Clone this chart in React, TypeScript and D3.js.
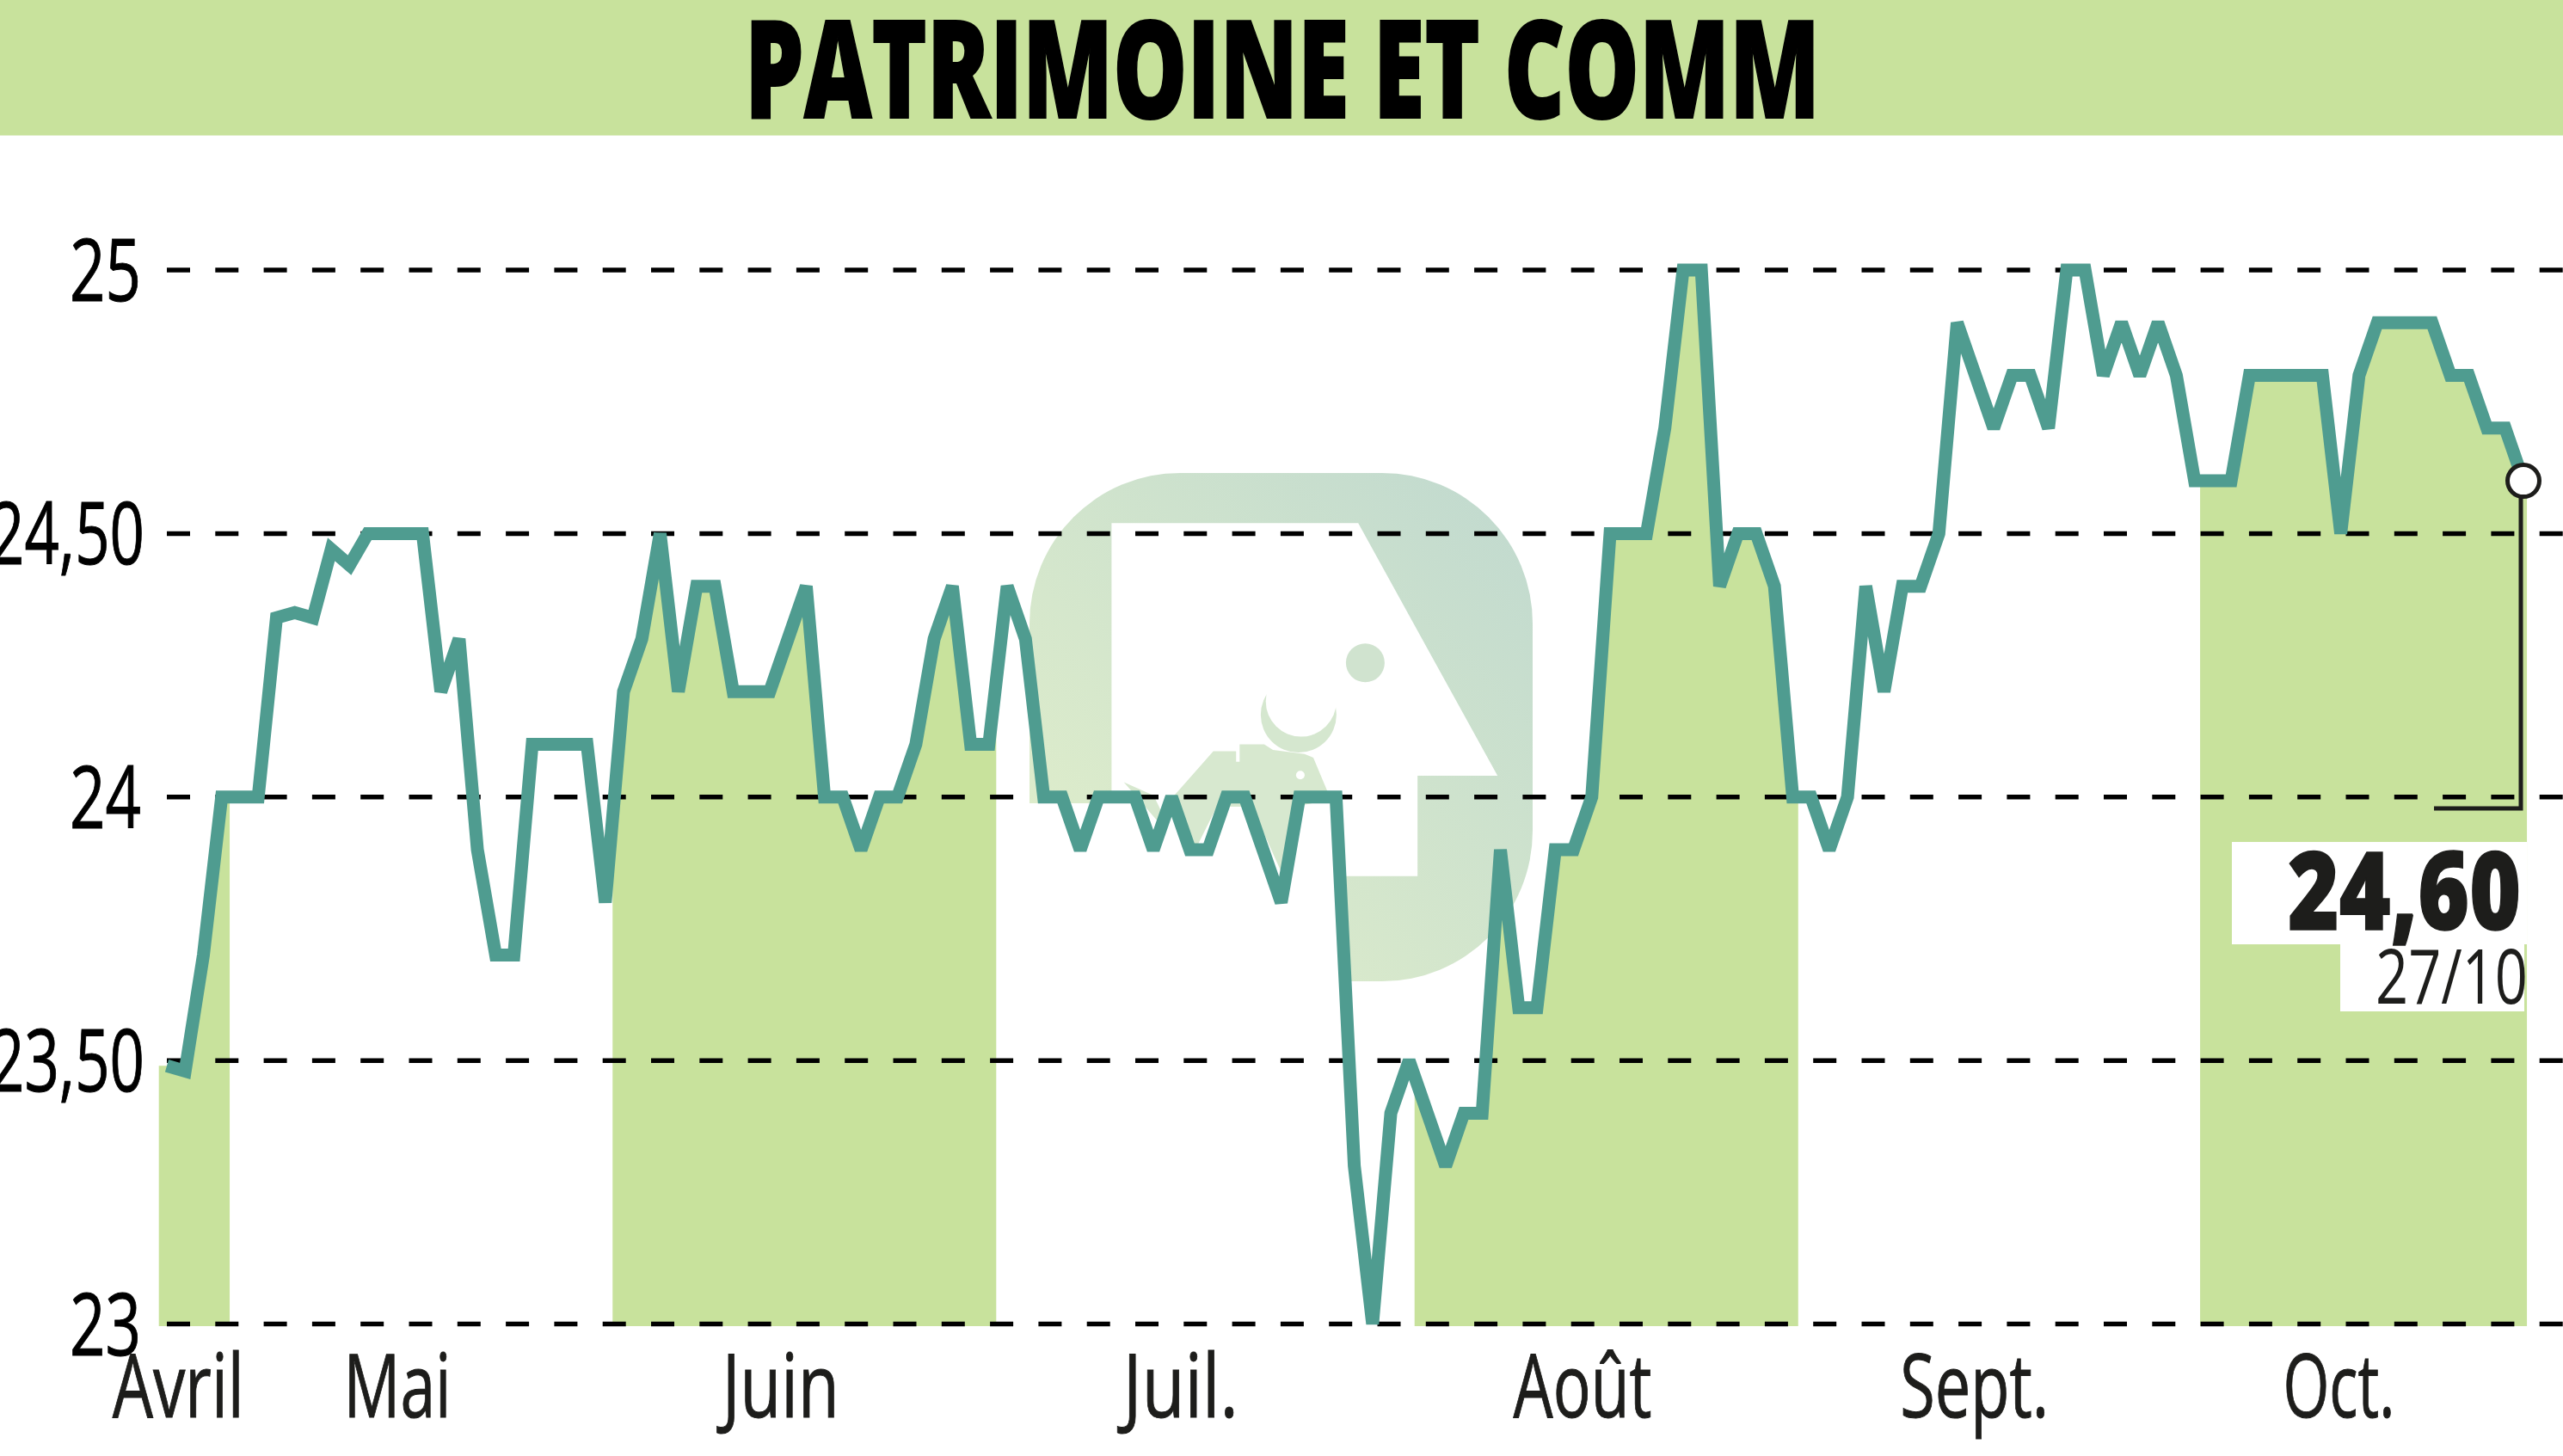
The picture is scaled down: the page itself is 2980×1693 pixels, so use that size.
import React from "react";
import * as d3 from "d3";

const title = "PATRIMOINE ET COMM";
const closes = [
  23.49, 23.48, 23.7, 24, 24, 24, 24.34, 24.35, 24.34, 24.47,
  24.44, 24.5, 24.5, 24.5, 24.5, 24.2, 24.3, 23.9, 23.7, 23.7,
  24.1, 24.1, 24.1, 24.1, 23.8, 24.2, 24.3, 24.5, 24.2, 24.4,
  24.4, 24.2, 24.2, 24.2, 24.3, 24.4, 24, 24, 23.9, 24,
  24, 24.1, 24.3, 24.4, 24.1, 24.1, 24.4, 24.3, 24, 24,
  23.9, 24, 24, 24, 23.9, 24, 23.9, 23.9, 24, 24,
  23.9, 23.8, 24, 24, 24, 23.3, 23, 23.4, 23.5, 23.4,
  23.3, 23.4, 23.4, 23.9, 23.6, 23.6, 23.9, 23.9, 24, 24.5,
  24.5, 24.5, 24.7, 25, 25, 24.4, 24.5, 24.5, 24.4, 24,
  24, 23.9, 24, 24.4, 24.2, 24.4, 24.4, 24.5, 24.9, 24.8,
  24.7, 24.8, 24.8, 24.7, 25, 25, 24.8, 24.9, 24.8, 24.9,
  24.8, 24.6, 24.6, 24.6, 24.8, 24.8, 24.8, 24.8, 24.8, 24.5,
  24.8, 24.9, 24.9, 24.9, 24.9, 24.8, 24.8, 24.7, 24.7, 24.6,
];
const yTicks = [23, 23.5, 24, 24.5, 25];
const yTickLabels = ["23", "23,50", "24", "24,50", "25"];
const monthLabels = ["Avril", "Mai", "Juin", "Juil.", "Août", "Sept.", "Oct."];
const monthCentres = [0.62, 12.62, 33.6, 55.5, 77.5, 98.95, 118.9];
const monthWidths = [153, 125, 136, 134, 161, 173, 130];
const bandStarts = [-0.45, 24.4, 68.3, 111.3];
const bandEnds = [3.44, 45.4, 89.3, 129.2];
const lastValue = "24,60";
const lastDate = "27/10";

const WIDTH = 2980;
const HEIGHT = 1693;
const GREEN = "#c8e29c";
const TEAL = "#4f9c90";
const INK = "#1d1d1b";
const FONT = "'Open Sans', 'Noto Sans', sans-serif";

const x = d3.scaleLinear().domain([0, closes.length - 1]).range([194, 2934]);
const y = d3.scaleLinear().domain([23, 25]).range([1539.5, 314]);

type P = { i: number; v: number };
const pts: P[] = closes.map((v, i) => ({ i, v }));
const line = d3.line<P>().x((d) => x(d.i)).y((d) => y(d.v));
const areaPts: P[] = [
  { i: bandStarts[0], v: closes[0] },
  ...pts,
  { i: bandEnds[bandEnds.length - 1], v: closes[closes.length - 1] },
];
const area = d3.area<P>().x((d) => x(d.i)).y0(1542).y1((d) => y(d.v));

// Watermark outline, in the reference's crop coordinates.
const wm = (px: number, py: number) => `${1170 + px * 0.408},${530 + py * 0.408}`;
const wmWhite = [
  [300, 192], [1003, 192], [1400, 912], [1172, 912], [1172, 1198], [960, 1198],
  [960, 1540], [0, 1540], [0, 990], [300, 990],
].map(([a, b]) => wm(a, b)).join(" ");
const wmBull = [
  [335, 930], [420, 968], [440, 1010], [490, 955], [590, 842], [655, 842], [655, 872],
  [665, 872], [665, 822], [735, 822], [760, 838], [850, 850], [875, 860], [925, 980],
  [820, 1000], [790, 1200], [700, 1000], [600, 1000], [530, 1140], [470, 1000], [430, 1040],
].map(([a, b]) => wm(a, b)).join(" ");

export default function App() {
  const xEnd = x(closes.length - 1);
  const yEnd = y(closes[closes.length - 1]);
  return (
    <svg
      width={WIDTH}
      height={HEIGHT}
      viewBox={`0 0 ${WIDTH} ${HEIGHT}`}
      style={{ position: "absolute", left: 0, top: 0, display: "block", background: "#fff" }}
    >
      <defs>
        <linearGradient id="wmGrad" x1="0" y1="1" x2="1" y2="0">
          <stop offset="0" stopColor="#e3f0ca" />
          <stop offset="1" stopColor="#c0d9cf" />
        </linearGradient>
        <clipPath id="bands">
          {bandStarts.map((s, k) => (
            <rect key={k} x={x(s)} y={0} width={x(bandEnds[k]) - x(s)} height={HEIGHT} />
          ))}
        </clipPath>
      </defs>

      <rect x={0} y={0} width={WIDTH} height={157.5} fill={GREEN} />
      <text
        x={866}
        y={137}
        textLength={1250}
        lengthAdjust="spacingAndGlyphs"
        fontFamily={FONT}
        fontWeight={800}
        fontSize={157}
        fill="#000"
        stroke="#000"
        strokeWidth={2}
      >
        {title}
      </text>

      <g>
        <rect x={1197} y={550} width={585} height={591} rx={175} ry={175} fill="url(#wmGrad)" />
        <polygon points={wmWhite} fill="#fff" />
        <polygon points={wmBull} fill="#d7e8cf" />
        <circle cx={1170 + 833 * 0.408} cy={530 + 738 * 0.408} r={44} fill="#d5e7cf" />
        <circle cx={1170 + 840 * 0.408} cy={530 + 700 * 0.408} r={41} fill="#fff" />
        <circle cx={1170 + 838 * 0.408} cy={530 + 910 * 0.408} r={5} fill="#fff" />
        <circle cx={1170 + 1023 * 0.408} cy={530 + 590 * 0.408} r={22.5} fill="#d0e3cf" />
      </g>

      <path d={area(areaPts) ?? ""} fill={GREEN} clipPath="url(#bands)" />

      {yTicks.map((t) => (
        <line
          key={t}
          x1={194}
          x2={WIDTH}
          y1={y(t)}
          y2={y(t)}
          stroke="#000"
          strokeWidth={5.5}
          strokeDasharray="27 29.3"
        />
      ))}

      {yTicks.map((t, k) => {
        const wide = yTickLabels[k].length > 2;
        return (
          <text
            key={t}
            x={wide ? -12 : 81}
            y={y(t) + 36}
            textLength={wide ? 180 : 83}
            lengthAdjust="spacingAndGlyphs"
            fontFamily={FONT}
            fontSize={101}
            fill="#000"
            stroke="#000"
            strokeWidth={1}
          >
            {yTickLabels[k]}
          </text>
        );
      })}

      {monthLabels.map((m, k) => (
        <text
          key={m}
          x={x(monthCentres[k]) - monthWidths[k] / 2}
          y={1648}
          textLength={monthWidths[k]}
          lengthAdjust="spacingAndGlyphs"
          fontFamily={FONT}
          fontSize={103}
          fill={INK}
          stroke={INK}
          strokeWidth={1}
        >
          {m}
        </text>
      ))}

      <path
        d={line(pts) ?? ""}
        fill="none"
        stroke={TEAL}
        strokeWidth={15}
        strokeLinejoin="miter"
        strokeMiterlimit={2.2}
      />

      <rect x={2595} y={979} width={343} height={119} fill="#fff" />
      <rect x={2721} y={1098} width={214} height={78} fill="#fff" />

      <polyline
        points={`${xEnd - 3},${yEnd} ${xEnd - 3},940 2830,940`}
        fill="none"
        stroke={INK}
        strokeWidth={5}
      />
      <circle cx={xEnd} cy={yEnd} r={18.5} fill="#fff" stroke={INK} strokeWidth={5} />

      <text
        x={2660}
        y={1081}
        textLength={271}
        lengthAdjust="spacingAndGlyphs"
        fontFamily={FONT}
        fontWeight={800}
        fontSize={125}
        fill={INK}
        stroke={INK}
        strokeWidth={1.5}
      >
        {lastValue}
      </text>
      <text
        x={2762}
        y={1167}
        textLength={177}
        lengthAdjust="spacingAndGlyphs"
        fontFamily={FONT}
        fontSize={87}
        fill={INK}
      >
        {lastDate}
      </text>
    </svg>
  );
}
